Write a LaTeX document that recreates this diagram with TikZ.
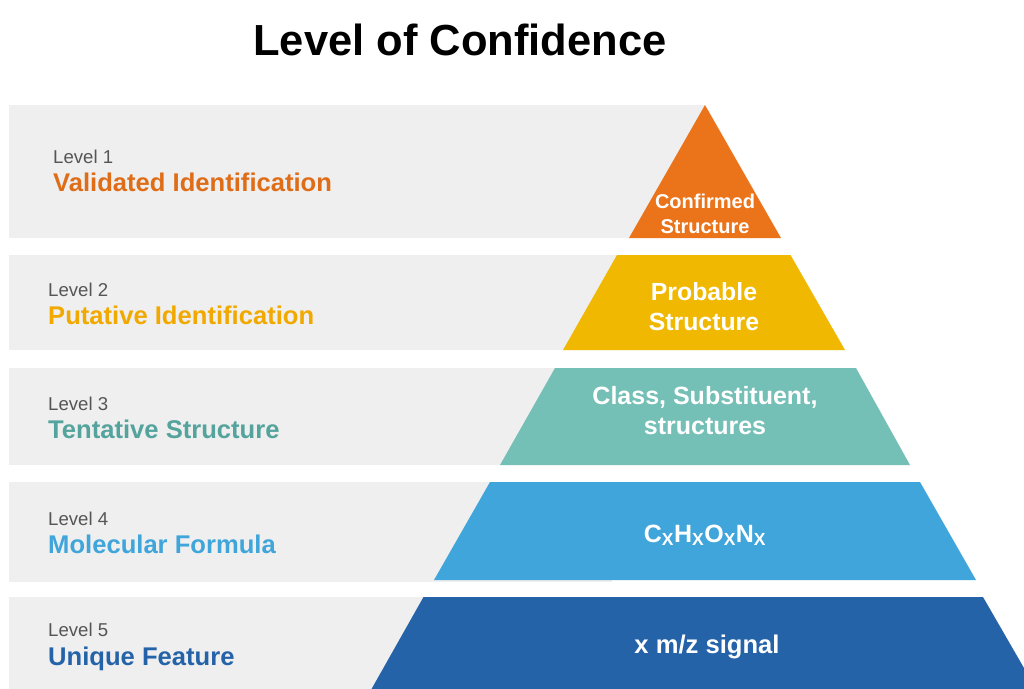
\documentclass[tikz,border=0pt]{standalone}
\usepackage{fontspec}
\setmainfont{Liberation Sans}
\usepackage{xcolor}
\usetikzlibrary{positioning}

\definecolor{bandgrey}{HTML}{EFEFEF}
\definecolor{lvlgrey}{HTML}{555555}
\definecolor{lvlone}{HTML}{EB7319}
\definecolor{lvltwo}{HTML}{F0B800}
\definecolor{lvlthree}{HTML}{74BFB6}
\definecolor{lvlfour}{HTML}{3FA5DA}
\definecolor{lvlfive}{HTML}{2563A9}

\begin{document}
\begin{tikzpicture}[x=1pt,y=-1pt,
    band/.style={fill=bandgrey,inner sep=0pt,anchor=north west,minimum height=#1},
    lvl/.style={anchor=base west,inner sep=0pt,text=lvlgrey,font=\fontsize{18.6}{22}\selectfont},
    tag/.style={anchor=base west,inner sep=0pt,font=\bfseries\fontsize{25.6}{30}\selectfont},
    tier/.style={text=white,align=center,inner sep=0pt,font=\bfseries\fontsize{25}{30}\selectfont}]
  \clip (0,0) rectangle (1024,688);
  \fill[white] (0,0) rectangle (1024,688);

  \node[anchor=base,font=\bfseries\fontsize{43.5}{50}\selectfont] (title) at (460,55) {Level of Confidence};

  % grey bands behind the pyramid
  \node[band=133pt,minimum width=696pt] (band1) at (9,105) {};
  \node[band=95pt,minimum width=615pt] (band2) at (9,255) {};
  \node[band=97pt,minimum width=603pt] (band3) at (9,368) {};
  \node[band=100pt,minimum width=603pt] (band4) at (9,482) {};
  \node[band=130pt,minimum width=603pt] (band5) at (9,597) {};

  % pyramid tiers
  \fill[lvlone] (705,105) -- (781,238) -- (629,238) -- cycle;
  \fill[lvltwo] (617,255) -- (790.5,255) -- (845,350) -- (563,350) -- cycle;
  \fill[lvlthree] (555,368) -- (856,368) -- (910,465) -- (500,465) -- cycle;
  \fill[lvlfour] (490,482) -- (920,482) -- (976,580) -- (434,580) -- cycle;
  \fill[lvlfive] (423.5,597) -- (983,597) -- (1054,720) -- (354,720) -- cycle;

  \node[tier,font=\bfseries\fontsize{20}{25}\selectfont] (tier1) at (705,214) {Confirmed\\Structure};
  \node[tier,font=\bfseries\fontsize{24.8}{29.5}\selectfont] (tier2) at (704,306.5) {Probable\\Structure};
  \node[tier] (tier3) at (705,411) {Class, Substituent,\\structures};
  \node[tier,anchor=base] (tier4) at (705,542) {C\textsubscript{X}H\textsubscript{X}O\textsubscript{X}N\textsubscript{X}};
  \node[tier,anchor=base,font=\bfseries\fontsize{25.6}{30}\selectfont] (tier5) at (707,653) {x m/z signal};

  % level names on the left
  \node[lvl] (lvl1) at (53,163) {Level 1};
  \node[tag,text=lvlone!95!black] (name1) at (53,191) {Validated Identification};
  \node[lvl] (lvl2) at (48,296) {Level 2};
  \node[tag,text=lvltwo!92!red] (name2) at (48,324) {Putative Identification};
  \node[lvl] (lvl3) at (48,410) {Level 3};
  \node[tag,text=lvlthree!80!black!90!cyan] (name3) at (48,438) {Tentative Structure};
  \node[lvl] (lvl4) at (48,525) {Level 4};
  \node[tag,text=lvlfour] (name4) at (48,553) {Molecular Formula};
  \node[lvl] (lvl5) at (48,636) {Level 5};
  \node[tag,text=lvlfive] (name5) at (48,665) {Unique Feature};
\end{tikzpicture}
\end{document}
